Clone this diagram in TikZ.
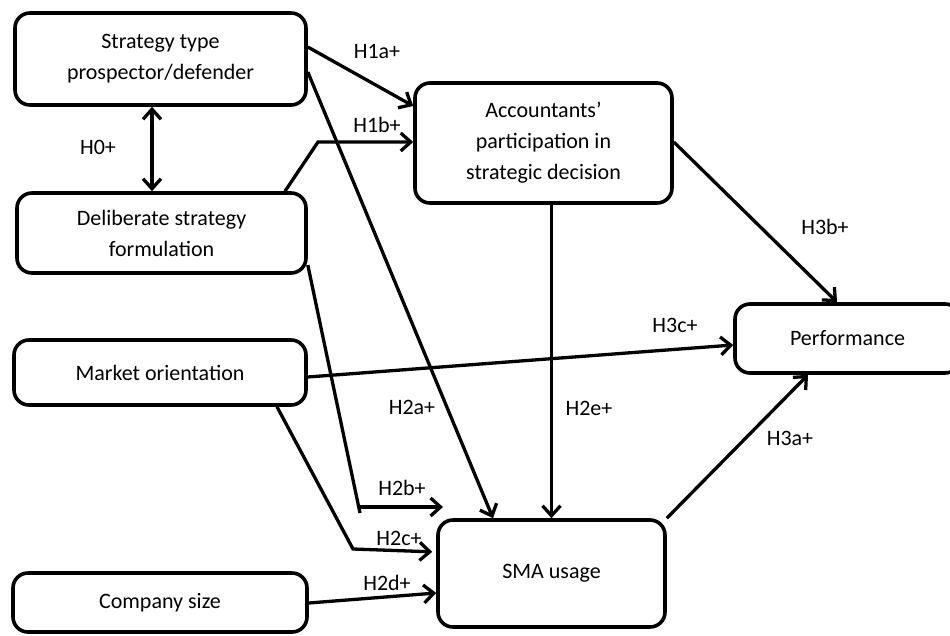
\documentclass[tikz,border=0pt]{standalone}
\usepackage{fontspec}
\setmainfont{Carlito}
\usetikzlibrary{arrows.meta}
\begin{document}
\begin{tikzpicture}[x=1pt,y=-1pt,
  box/.style={draw, line width=3.6pt, rounded corners=15pt, align=center,
    inner sep=0pt, font=\fontsize{22}{31}\selectfont},
  link/.style={line width=3.3pt, -{Straight Barb[length=10pt,width=18pt]}},
  dlink/.style={line width=3.3pt,
    {Straight Barb[length=10pt,width=18pt]}-{Straight Barb[length=10pt,width=18pt]}},
  plain/.style={line width=3.3pt},
  lbl/.style={font=\fontsize{22}{26}\selectfont, inner sep=0pt}]
\clip (0,0) rectangle (950,635);

% constructs
\node[box, minimum width=291pt, minimum height=92pt] (st) at (160.5,59) {Strategy type\\prospector/defender};
\node[box, minimum width=289pt, minimum height=80pt] (ds) at (161.5,233) {Deliberate strategy\\formulation};
\node[box, minimum width=292pt, minimum height=65pt] (mo) at (160,372.5) {Market orientation};
\node[box, minimum width=294pt, minimum height=59pt] (cs) at (160,602.5) {Company size};
\node[box, minimum width=257pt, minimum height=120pt] (ap) at (543.5,143) {Accountants'\\participation in\\strategic decision};
\node[box, minimum width=225pt, minimum height=69pt] (pf) at (847.5,338.5) {Performance};
\node[box, minimum width=227pt, minimum height=107pt] (sma) at (551.5,573.5) {SMA usage};

% bend points
\coordinate (h1bk) at (318,142);
\coordinate (h2bk) at (360,513);
\coordinate (h2bs) at (360,507);
\coordinate (h2bt) at (443,507);
\coordinate (h2ck) at (353,549);

% hypotheses
\draw[dlink] ([xshift=-8.5pt]st.south) -- ([xshift=-9.5pt]ds.north);
\draw[link] ([yshift=12pt]st.east) -- ([yshift=37pt]ap.west);
\draw[link] ([xshift=123.5pt]ds.north) -- (h1bk) -- (h1bk -| ap.west);
\draw[link] ([yshift=-13pt]st.east) -- ([xshift=-58.5pt]sma.north);
\draw[plain] ([yshift=-32pt]ds.east) -- (h2bk);
\draw[link] (h2bs) -- (h2bt);
\draw[link, shorten >=4pt] ([xshift=117pt]mo.south) -- (h2ck) -- ([yshift=21.5pt]sma.west);
\draw[link] ([yshift=-0.5pt]cs.east) -- ([yshift=-19.5pt]sma.west);
\draw[link] (ap.south -| sma.north) -- (sma.north);
\draw[link] (sma.north east) -- ([xshift=-39.5pt]pf.south);
\draw[link] ([yshift=1pt]ap.east) -- ([xshift=-10.5pt]pf.north);
\draw[link] ([yshift=-4.5pt]mo.east) -- ([yshift=-6.5pt]pf.west);

% labels
\node[lbl] (l0) at (98,147) {H0+};
\node[lbl] (l1a) at (377,51) {H1a+};
\node[lbl] (l1b) at (377,125) {H1b+};
\node[lbl] (l2a) at (412,407) {H2a+};
\node[lbl] (l2b) at (402,488) {H2b+};
\node[lbl] (l2c) at (399,538) {H2c+};
\node[lbl] (l2d) at (387,583) {H2d+};
\node[lbl] (l2e) at (589,408) {H2e+};
\node[lbl] (l3a) at (790,438) {H3a+};
\node[lbl] (l3b) at (825,227) {H3b+};
\node[lbl] (l3c) at (675,325) {H3c+};
\end{tikzpicture}
\end{document}
